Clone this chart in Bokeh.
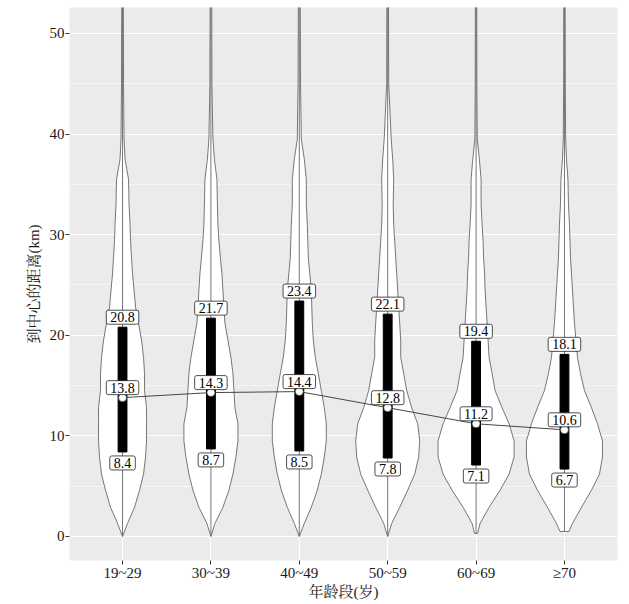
from bokeh.plotting import figure
from bokeh.models import FixedTicker, SingleIntervalTicker
from bokeh.embed import file_html
from bokeh.resources import INLINE
from bokeh.core.properties import value

# ---------------- data ----------------
categories = ["19~29", "30~39", "40~49", "50~59", "60~69", "≥70"]
q1 = [8.4, 8.7, 8.5, 7.8, 7.1, 6.7]
median = [13.8, 14.3, 14.4, 12.8, 11.2, 10.6]
q3 = [20.8, 21.7, 23.4, 22.1, 19.4, 18.1]
data_min = [0, 0, 0, 0, 0.3, 0.5]
data_max = [58, 58, 58, 58, 58, 58]

# distance levels (km) at which the violin density was read
levels = [0, 1.3, 2.9, 4.6, 6.2, 7.9, 9.5, 11.2, 12.8, 14.5, 16.2, 17.8, 19.5,
          21.2, 22.8, 24.5, 26.1, 27.7, 29.4, 31, 33, 35.5, 37.5, 39.5, 45, 58]
# relative density (violin half-width, max = 38) per age group
dens_19_29 = [0, 5, 12, 17, 21, 23, 24, 24, 24, 22, 22, 21, 19, 16, 13, 11.5, 10, 9, 8, 7.5,
              6.5, 6, 2.5, 1.5, 1, 0.7]
dens_30_39 = [0, 4, 12, 18, 22, 25, 27, 27, 24, 23, 22, 20, 17, 14, 13, 12, 11, 9.5, 8, 7,
              6.5, 6, 3.5, 2, 1, 0.7]
dens_40_49 = [0, 5, 12, 18, 22, 25, 27, 27, 25, 22, 19, 16, 14, 13, 12.5, 12, 10.5, 9, 8.5, 8,
              7, 7, 5, 2, 1.2, 0.8]
dens_50_59 = [0, 4, 12, 20, 27, 31, 32, 30, 24, 19, 16, 13, 13, 12, 11, 10, 9, 8, 7, 6,
              5.5, 6, 5, 3.5, 1, 0.7]
dens_60_69 = [1.5, 4, 13, 24, 33, 38, 38, 33, 26, 19, 16, 13, 12, 11, 10, 9, 8.5, 7.5, 7, 6,
              5, 5, 3.3, 1.2, 0.8, 0.6]
dens_70 = [4.5, 8, 17, 27, 35, 38, 38, 33, 27, 20, 16, 13, 11.5, 10, 9, 8, 7, 6, 5.5, 5,
           4, 3.5, 2, 1.2, 0.8, 0.6]
densities = [dens_19_29, dens_30_39, dens_40_49, dens_50_59, dens_60_69, dens_70]

# ---------------- styling ----------------
FONT = "Liberation Serif, Noto Serif CJK SC, Noto Sans CJK SC"
MAX_HALF_WIDTH = 0.43   # in category units
DENS_MAX = 38.0

pos = list(range(1, len(categories) + 1))

p = figure(width=629, height=604, x_range=(0.4, 6.6), y_range=(-2.39, 52.58),
           output_backend="svg", toolbar_location=None,
           min_border_left=69, min_border_right=12, min_border_top=7, min_border_bottom=44)
p.background_fill_color = "#EBEBEB"
p.border_fill_color = "white"
p.outline_line_color = None

# grid
p.xgrid.grid_line_color = "white"
p.xgrid.grid_line_width = 1.1
p.ygrid.grid_line_color = "white"
p.ygrid.grid_line_width = 1.1
p.ygrid.minor_grid_line_color = "white"
p.ygrid.minor_grid_line_width = 0.5

# axes
p.xaxis.ticker = FixedTicker(ticks=pos)
p.xaxis.major_label_overrides = {i: c for i, c in zip(pos, categories)}
p.yaxis.ticker = SingleIntervalTicker(interval=10, num_minor_ticks=2)
for ax in (p.xaxis[0], p.yaxis[0]):
    ax.axis_line_color = None
    ax.major_tick_line_color = "#333333"
    ax.major_tick_in = 0
    ax.major_tick_out = 4
    ax.minor_tick_line_color = None
    ax.major_label_text_font = FONT
    ax.major_label_text_font_size = "15px"
    ax.major_label_text_color = "#1a1a1a"
    ax.axis_label_text_font = FONT
    ax.axis_label_text_font_size = "15px"
    ax.axis_label_text_font_style = "normal"
    ax.axis_label_text_color = "#1a1a1a"
p.xaxis.axis_label = "年龄段(岁)"
p.yaxis.axis_label = "到中心的距离(km)"
p.xaxis.major_label_standoff = 0
p.xaxis.axis_label_standoff = 0
p.yaxis.major_label_standoff = 1
p.yaxis.axis_label_standoff = 5

# violins
xs, ys = [], []
for c, dens, lo in zip(pos, densities, data_min):
    lv = [lo] + levels[1:]
    hw = [d / DENS_MAX * MAX_HALF_WIDTH for d in dens]
    left_x = [c - h for h in hw]
    right_x = [c + h for h in hw]
    xs.append(left_x + right_x[::-1])
    ys.append(lv + lv[::-1])
p.patches(xs, ys, fill_color="white", line_color="#555555", line_width=0.8)

# whisker centre lines
p.segment(x0=pos, y0=data_min, x1=pos, y1=data_max, line_color="#666666", line_width=0.9)

# IQR bars
p.vbar(x=pos, bottom=q1, top=q3, width=0.1, fill_color="black", line_color="black")

# median trend line
p.line(pos, median, line_color="#333333", line_width=0.9)

# median dots
p.scatter(pos, median, size=8, fill_color="white", line_color="#222222", line_width=0.6)

# value labels
def fmt(v):
    return f"{v:.1f}"

label_kw = dict(text_font=value(FONT), text_font_size="14px", text_align="center",
                text_baseline="middle", text_color="black",
                background_fill_color="white", border_line_color="#222222",
                border_line_width=0.8, padding=[4, 2], border_radius=2)
p.text(x=pos, y=q3, text=[fmt(v) for v in q3], y_offset=-10, **label_kw)
p.text(x=pos, y=median, text=[fmt(v) for v in median], y_offset=-10, **label_kw)
p.text(x=pos, y=q1, text=[fmt(v) for v in q1], y_offset=11, **label_kw)

open("out.html", "w").write(file_html(p, INLINE))
